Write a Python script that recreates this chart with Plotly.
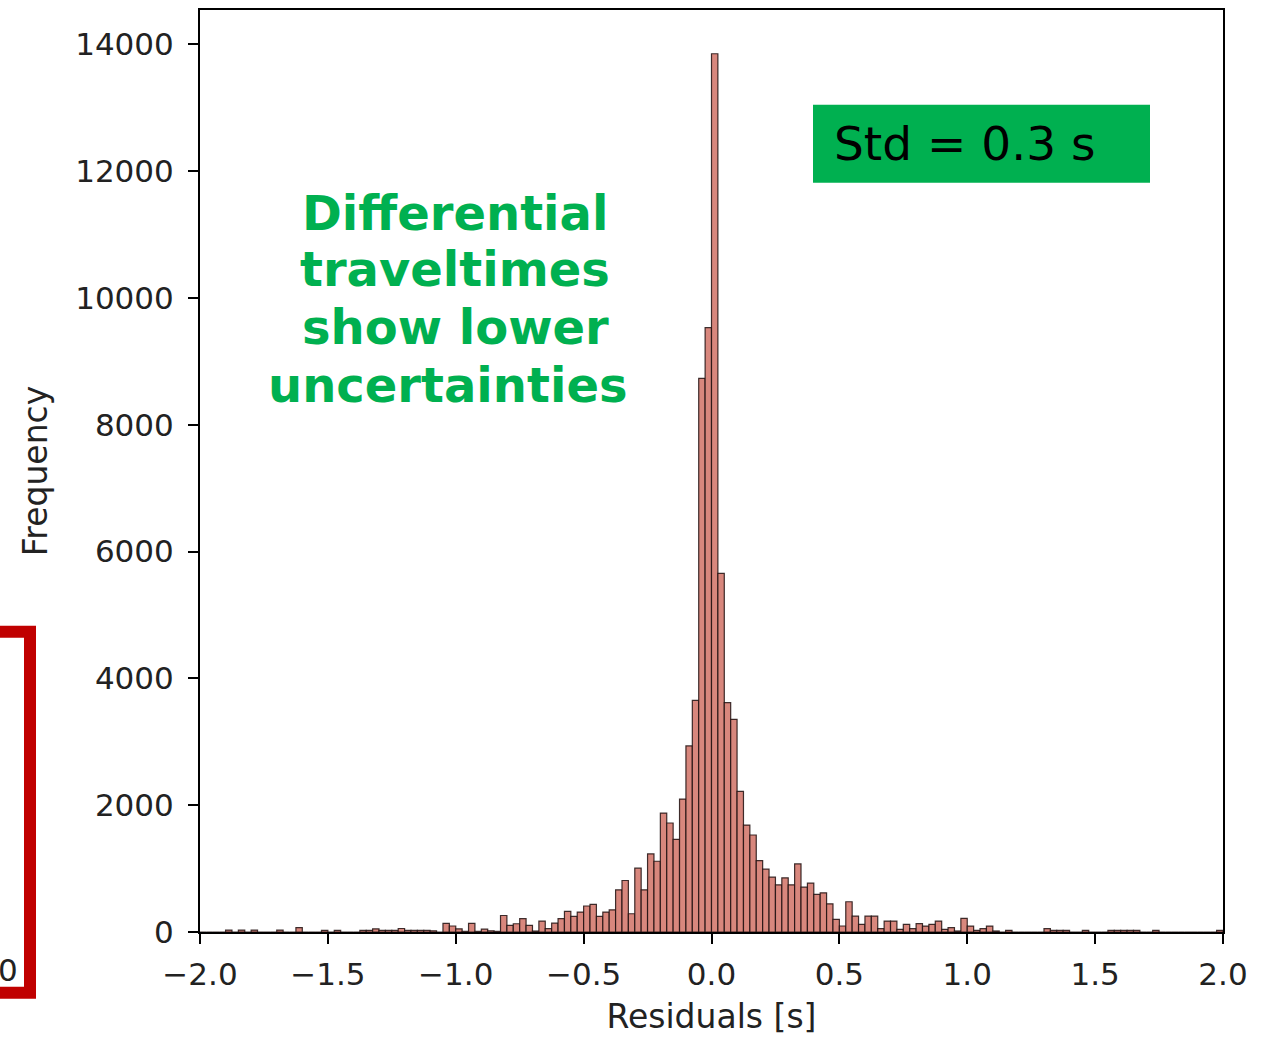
import numpy as np
import plotly.graph_objects as go

# ---- data ----
bin_start = -2.0
bin_width = 0.025
counts = [
    0, 0, 0, 0, 30, 0, 30, 0, 30, 0,          # 0-9
    0, 0, 30, 0, 0, 70, 0, 0, 0, 25,          # 10-19
    0, 25, 0, 0, 0, 25, 25, 50, 25, 25,       # 20-29
    25, 55, 25, 25, 25, 25, 20, 0, 135, 95,   # 30-39
    50, 10, 135, 10, 45, 20, 10, 260, 105, 130,  # 40-49
    210, 105, 15, 172, 52, 140, 210, 325, 245, 315,  # 50-59
    410, 435, 245, 315, 350, 665, 812, 288, 1006, 665,  # 60-69
    1231, 1116, 1876, 1719, 1462, 2096, 2934, 3652, 8730, 9530,  # 70-79
    13850, 5655, 3616, 3354, 2217, 1687, 1530, 1127, 990, 865,  # 80-89
    744, 854, 744, 1074, 707, 770, 592, 618, 445, 200,  # 90-99
    95, 477, 250, 120, 250, 250, 52, 173, 173, 42,  # 100-109
    120, 52, 131, 94, 120, 173, 42, 68, 16, 215,  # 110-119
    94, 26, 52, 94, 16, 0, 26, 0, 0, 0,       # 120-129
    0, 0, 52, 26, 26, 26, 0, 0, 26, 0,        # 130-139
    0, 0, 26, 26, 26, 26, 26, 0, 0, 26,       # 140-149
    0, 0, 0, 0, 0, 0, 0, 0, 0, 26,            # 150-159
]
x_tick_vals = [-2.0, -1.5, -1.0, -0.5, 0.0, 0.5, 1.0, 1.5, 2.0]
x_tick_text = ["\u22122.0", "\u22121.5", "\u22121.0", "\u22120.5", "0.0", "0.5", "1.0", "1.5", "2.0"]
y_tick_vals = [0, 2000, 4000, 6000, 8000, 10000, 12000, 14000]
y_tick_text = ["0", "2000", "4000", "6000", "8000", "10000", "12000", "14000"]
note_lines = ["Differential", "traveltimes", "show lower", "uncertainties"]
std_label = "Std = 0.3 s"
x_title = "Residuals [s]"
y_title = "Frequency"
cut_label = "0"

centers = bin_start + bin_width * (np.arange(len(counts)) + 0.5)

FONT = "DejaVu Sans"
TXT = "#222222"
GREEN = "#00b050"

fig = go.Figure(
    go.Bar(
        x=centers,
        y=counts,
        width=bin_width,
        marker=dict(color="#d8877d", line=dict(color="rgba(30,15,15,0.85)", width=1.2)),
        hoverinfo="x+y",
    )
)

# plot area in pixels: x 200..1223, y 8..932
L, R, T, B = 200, 43, 8, 105
W, H = 1266, 1037
pw, ph = W - L - R, H - T - B


def px(xp):
    return (xp - L) / pw


def py(yp):
    return (H - B - yp) / ph


axis_common = dict(
    showline=True, linecolor="black", linewidth=2, mirror=True,
    ticks="outside", ticklen=10, tickwidth=2, tickcolor="black",
    tickfont=dict(family=FONT, size=31, color=TXT),
    showgrid=False, zeroline=False,
)

fig.update_layout(
    width=W, height=H,
    margin=dict(l=L, r=R, t=T, b=B),
    plot_bgcolor="white", paper_bgcolor="white",
    showlegend=False,
    xaxis=dict(
        range=[-2.0, 2.0], tickvals=x_tick_vals, ticktext=x_tick_text,
        title=dict(text=x_title, font=dict(family=FONT, size=33, color=TXT), standoff=14),
        ticklabelstandoff=4,
        **axis_common,
    ),
    yaxis=dict(
        range=[0, 14540], tickvals=y_tick_vals, ticktext=y_tick_text,
        title=dict(text=y_title, font=dict(family=FONT, size=33, color=TXT), standoff=18),
        ticklabelstandoff=8,
        **axis_common,
    ),
)

# green Std box
fig.add_shape(type="rect", xref="paper", yref="paper",
              x0=px(813), x1=px(1150), y0=py(181), y1=py(103),
              fillcolor=GREEN, line=dict(width=0), layer="above")
fig.add_annotation(xref="paper", yref="paper", x=px(832), y=py(142),
                   xanchor="left", yanchor="middle", showarrow=False,
                   text=std_label, font=dict(family=FONT, size=47, color="black"))

# green note text
line_x = [455, 455, 455, 448]
line_y = [211, 268, 326, 384]
for t, xx, yy in zip(note_lines, line_x, line_y):
    fig.add_annotation(xref="paper", yref="paper", x=px(xx), y=py(yy),
                       xanchor="center", yanchor="middle", showarrow=False,
                       text="<b>" + t + "</b>", font=dict(family=FONT, size=48, color=GREEN))

# red bracket from neighbouring panel (cut off at left edge)
fig.add_shape(type="path", xref="paper", yref="paper",
              path=f"M {px(-10)},{py(631)} L {px(30)},{py(631)} L {px(30)},{py(993)} L {px(-10)},{py(993)}",
              line=dict(color="#c00000", width=12), layer="above")
fig.add_annotation(xref="paper", yref="paper", x=px(20), y=py(970),
                   xanchor="right", yanchor="middle", showarrow=False,
                   text=cut_label, font=dict(family=FONT, size=31, color=TXT))

fig.write_html("out.html", config={"displayModeBar": False},
               post_script="document.body.style.margin='0';document.body.style.overflow='hidden';")
